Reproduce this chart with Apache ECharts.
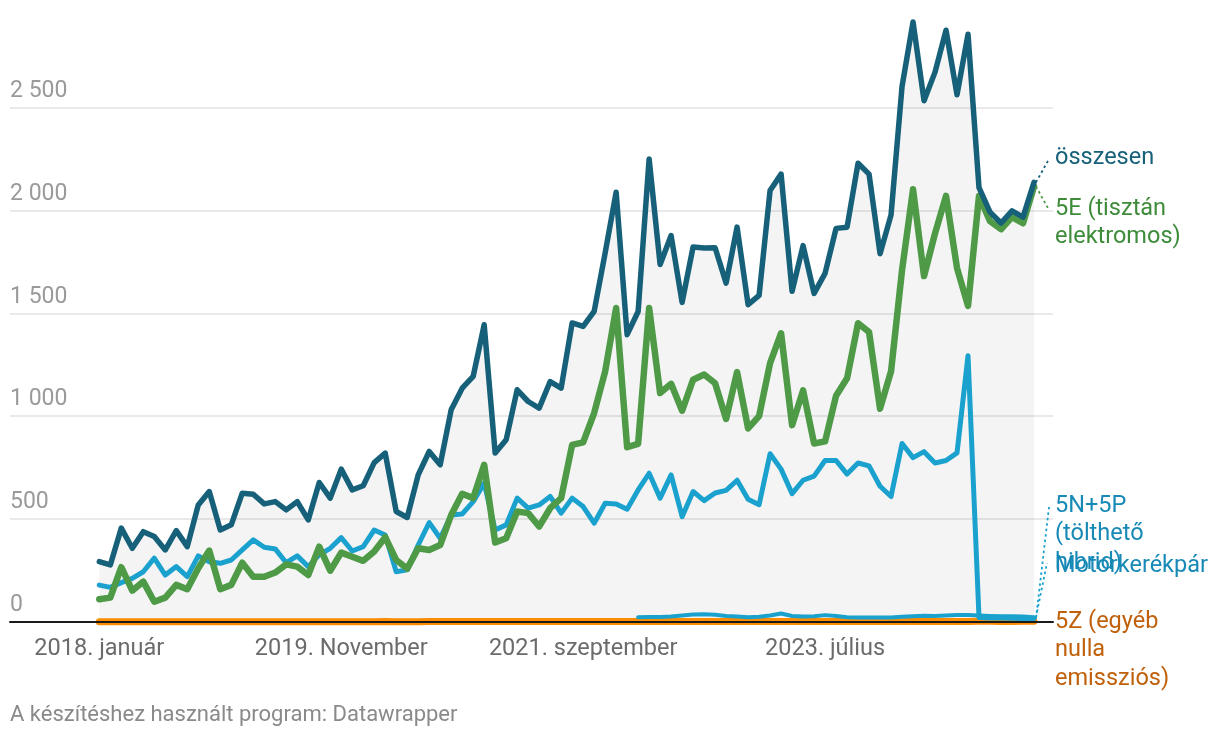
<!DOCTYPE html>
<html>
<head>
<meta charset="utf-8">
<script src="https://cdn.jsdelivr.net/npm/echarts@6/dist/echarts.min.js"></script>
<style>
html,body{margin:0;padding:0;background:#fff;}
#chart{width:1220px;height:738px;}
</style>
</head>
<body>
<div id="chart"></div>
<script>
// ---- data (monthly, 2018. január .. 2025. február) ----
const startYear = 2018;
const monthNames = ["január","február","március","április","május","június","július","augusztus","szeptember","október","November","december"];
const tickLabels = ["2018. január","2019. November","2021. szeptember","2023. július"];
const yTicks = [0, 500, 1000, 1500, 2000, 2500];

const osszesen = [292,276,455,357,438,414,349,443,365,568,633,446,471,625,620,573,584,544,584,495,677,601,742,641,661,774,820,536,507,714,828,763,1031,1136,1193,1444,820,885,1128,1071,1039,1168,1136,1453,1436,1509,1793,2089,1396,1509,2251,1737,1878,1553,1823,1818,1819,1647,1919,1542,1587,2097,2177,1607,1829,1597,1694,1913,1919,2230,2177,1790,1978,2603,2917,2534,2673,2877,2563,2857,2111,1992,1939,1998,1968,2137];
const e5E = [109,117,265,151,195,97,117,179,158,260,346,158,179,287,219,219,239,279,268,227,365,248,336,316,296,341,411,300,258,357,349,373,519,622,601,763,385,406,536,528,463,552,601,860,872,1015,1217,1526,849,865,1526,1112,1157,1026,1177,1202,1160,986,1214,940,1000,1258,1403,956,1125,867,877,1099,1184,1452,1409,1036,1218,1710,2103,1681,1889,2071,1720,1536,2071,1948,1909,1968,1938,2117];
const n5N5P = [178,167,190,211,243,309,227,268,219,320,292,284,300,349,398,362,354,287,320,268,325,357,409,344,365,446,422,243,252,373,482,406,519,524,584,674,446,471,601,552,568,609,528,601,560,479,576,573,547,641,722,601,714,511,633,589,626,639,688,595,569,817,742,623,688,708,784,784,718,772,758,659,609,867,798,827,772,784,821,1294,20,18,18,17,16,15];
const motor = [null,null,null,null,null,null,null,null,null,null,null,null,null,null,null,null,null,null,null,null,null,null,null,null,null,null,null,null,null,null,null,null,null,null,null,null,null,null,null,null,null,null,null,null,null,null,null,null,null,22,23,23,25,30,35,36,34,28,25,22,24,30,40,28,25,27,32,28,22,20,20,20,21,24,27,29,28,30,32,33,30,28,27,26,25,22];
const z5Z = [0,0,0,0,0,0,0,0,0,0,0,0,0,0,0,0,0,0,0,0,0,0,0,0,0,0,1,0,0,0,1,1,1,1,1,1,1,1,1,1,1,1,1,1,1,1,1,1,1,1,1,1,1,1,1,1,1,1,1,1,1,1,1,1,2,1,1,1,1,1,2,1,1,1,1,2,1,1,1,1,2,2,1,1,2,2];

const categories = [];
for (let i = 0; i < osszesen.length; i++) {
  const y = startYear + Math.floor(i / 12);
  categories.push(y + ". " + monthNames[i % 12]);
}

const FONT = "Roboto, 'Noto Sans', sans-serif";
const C_TOT = "#17607a", C_E = "#4e9a47", C_N = "#1aa1cd", C_M = "#1aa1cd", C_Z = "#fb8c00";
const T_TOT = "#17607a", T_E = "#3e8c3a", T_N = "#1789b6", T_Z = "#c0600a";

const YMAX = 3000;
const gridTop = 4.9, gridBottom = 116.3;

const chart = echarts.init(document.getElementById('chart'), null, {renderer: 'canvas'});

function lineSeries(name, data, color, width, z) {
  return {
    name, type: 'line', data, xAxisIndex: 0, yAxisIndex: 0,
    showSymbol: false, symbol: 'none', smooth: false, connectNulls: false, clip: false,
    lineStyle: {color, width, cap: 'round', join: 'round'},
    z, silent: true, animation: false
  };
}

chart.setOption({
  animation: false,
  textStyle: {fontFamily: FONT},
  grid: [
    {left: 99.3, right: 186, top: gridTop, bottom: gridBottom, containLabel: false},
    {left: 10, right: 167, top: gridTop, bottom: gridBottom, containLabel: false}
  ],
  xAxis: [
    {
      type: 'category', gridIndex: 0, data: categories, boundaryGap: false,
      axisLine: {show: false}, axisTick: {show: false}, splitLine: {show: false},
      axisLabel: {
        interval: (idx, val) => tickLabels.indexOf(val) >= 0,
        color: '#6b6b6b', fontSize: 23.5, fontFamily: FONT, margin: 15
      }
    },
    {
      type: 'value', gridIndex: 1, min: 0, max: 1, z: 10,
      axisLine: {show: true, onZero: false, lineStyle: {color: '#1a1a1a', width: 2}},
      axisTick: {show: false}, axisLabel: {show: false}, splitLine: {show: false}
    }
  ],
  yAxis: [
    {
      type: 'value', gridIndex: 0, min: 0, max: YMAX, interval: 500,
      axisLine: {show: false}, axisTick: {show: false}, axisLabel: {show: false}, splitLine: {show: false}
    },
    {
      type: 'value', gridIndex: 1, min: 0, max: YMAX, interval: 500,
      axisLine: {show: false}, axisTick: {show: false},
      splitLine: {show: true, showMaxLine: false, showMinLine: false, lineStyle: {color: '#e2e2e2', width: 1.5}},
      axisLabel: {
        inside: true, align: 'left', verticalAlign: 'bottom', margin: 0,
        padding: [0, 0, 5, 0], showMaxLabel: false,
        color: '#9a9a9a', fontSize: 23, fontFamily: FONT,
        formatter: v => yTicks.indexOf(v) >= 0 ? String(v).replace(/\B(?=(\d{3})+(?!\d))/g, ' ') : ''
      }
    }
  ],
  series: [
    {
      name: 'area', type: 'line', data: osszesen, xAxisIndex: 0, yAxisIndex: 0,
      showSymbol: false, symbol: 'none', lineStyle: {width: 0, opacity: 0},
      areaStyle: {color: 'rgba(0,0,0,0.062)', origin: 'start'}, z: 1, silent: true
    },
    lineSeries('5Z (egyéb nulla emissziós)', z5Z, C_Z, 7, 2),
    lineSeries('Motorkerékpár', motor, C_M, 4, 3),
    lineSeries('5N+5P (tölthető hibrid)', n5N5P, C_N, 5, 4),
    lineSeries('5E (tisztán elektromos)', e5E, C_E, 6.5, 5),
    lineSeries('összesen', osszesen, C_TOT, 5.5, 6)
  ]
});

// ---- direct labels on the right with dotted connectors ----
const last = osszesen.length - 1;
function endPt(arr) { return chart.convertToPixel({xAxisIndex: 0, yAxisIndex: 0}, [last, arr[last]]); }
const pTot = endPt(osszesen), pE = endPt(e5E), pN = endPt(n5N5P), pM = endPt(motor);

const LX = 1055, LH = 28.5;
function label(text, top, color) {
  return {type: 'text', z: 20, silent: true,
    style: {text, x: LX, y: top, fill: color, font: '23.5px ' + FONT, lineHeight: LH, verticalAlign: 'top', align: 'left'}};
}
function conn(p, tx, ty, color) {
  return {type: 'polyline', z: 19, silent: true,
    shape: {points: [[p[0] + 2, p[1]], [tx, ty]]},
    style: {stroke: color, lineWidth: 1.8, lineDash: [2.5, 3], fill: null}};
}

chart.setOption({
  graphic: [
    conn(pTot, 1049, 159, C_TOT),
    conn(pE, 1049, 210, C_E),
    conn(pN, 1049, 507, C_N),
    conn(pM, 1047, 563, C_N),
    label('összesen', 158 - LH / 2, T_TOT),
    label('5E (tisztán\nelektromos)', 209 - LH / 2, T_E),
    label('5N+5P\n(tölthető\nhibrid)', 506 - LH / 2, T_N),
    label('Motorkerékpár', 566 - LH / 2, T_N),
    label('5Z (egyéb\nnulla\nemissziós)', 622 - LH / 2, T_Z),
    {type: 'text', z: 20, silent: true,
      style: {text: 'A készítéshez használt program: Datawrapper', x: 10, y: 715, fill: '#8a8a8a',
        font: '22px ' + FONT, verticalAlign: 'middle', align: 'left'}}
  ]
});
</script>
</body>
</html>
